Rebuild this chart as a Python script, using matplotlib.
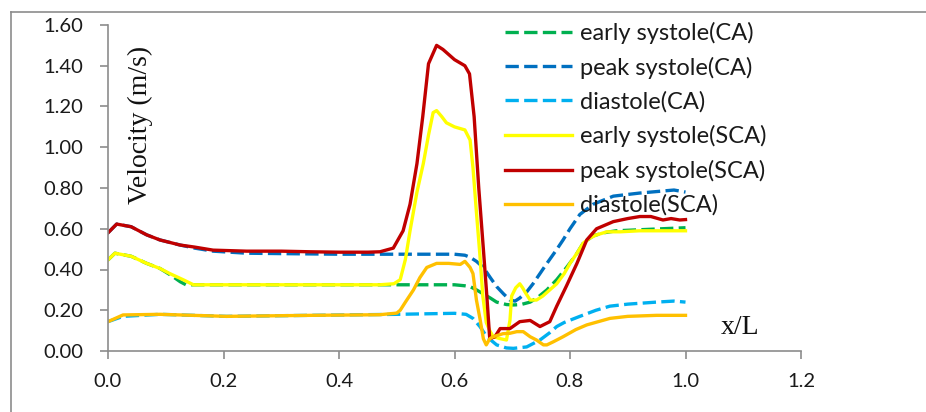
import numpy as np
import matplotlib
matplotlib.use("Agg")
import matplotlib.pyplot as plt
from matplotlib.lines import Line2D

# early systole (CA)
es_ca_x = [0, .012, .04, .067, .09, .11, .125, .135, .15, .3, .45, .55, .6, .618, .627, .638, .65, .662,
           .673, .69, .702, .715, .731, .745, .76, .777, .794, .81, .823, .84, .858, .88, .92, .96, 1.0]
es_ca_v = [.447, .48, .465, .43, .405, .37, .34, .325, .325, .325, .325, .325, .325, .32, .316, .30, .28, .26,
           .24, .228, .226, .228, .24, .265, .30, .35, .41, .47, .53, .565, .58, .59, .595, .6, .605]

# peak systole (CA)
ps_ca_x = [0, .015, .04, .067, .09, .125, .15, .182, .24, .3, .4, .5, .55, .6, .618, .627, .638, .65, .662,
           .673, .685, .696, .705, .713, .725, .736, .748, .76, .775, .788, .80, .817, .84, .875, .92, .96, .98, 1.0]
ps_ca_v = [.58, .623, .61, .57, .545, .52, .505, .49, .48, .478, .475, .475, .475, .475, .47, .46, .44, .41, .36,
           .316, .28, .25, .245, .26, .29, .33, .38, .43, .49, .545, .6, .67, .72, .76, .775, .785, .79, .78]

# diastole (CA)
d_ca_x = [0, .026, .09, .205, .35, .5, .6, .62, .632, .644, .656, .673, .69, .702, .725, .748, .765, .777,
          .79, .817, .845, .869, .9, .95, .98, 1.0]
d_ca_v = [.144, .17, .18, .17, .175, .18, .185, .18, .16, .12, .07, .03, .015, .013, .02, .054, .09, .12,
          .14, .17, .2, .22, .23, .24, .245, .24]

# early systole (SCA)
es_sca_x = [0, .012, .04, .067, .09, .107, .13, .148, .2, .3, .4, .47, .495, .506, .515, .523, .535, .546,
            .555, .563, .569, .578, .586, .60, .618, .627, .632, .638, .644, .649, .655, .661, .667, .68, .69,
            .696, .699, .706, .713, .718, .722, .731, .742, .753, .765, .777, .79, .8, .812, .823, .835, .846,
            .864, .887, .92, .95, 1.0]
es_sca_v = [.447, .48, .465, .43, .405, .38, .35, .325, .325, .325, .325, .325, .33, .35, .45, .59, .78, .92,
            1.06, 1.17, 1.18, 1.15, 1.12, 1.10, 1.085, 1.035, .9, .68, .47, .27, .14, .10, .07, .06, .054,
            .15, .27, .31, .33, .31, .29, .25, .25, .27, .3, .33, .38, .43, .48, .53, .555, .57,
            .585, .585, .59, .59, .59]

# peak systole (SCA)
ps_sca_x = [0, .015, .04, .067, .09, .125, .15, .182, .24, .3, .35, .4, .45, .471, .494, .511, .523, .535,
            .545, .555, .569, .58, .60, .618, .626, .634, .642, .65, .656, .661, .67, .679, .696, .713, .731,
            .748, .765, .777, .794, .812, .829, .846, .875, .9, .921, .94, .961, .975, .99, 1.0]
ps_sca_v = [.58, .623, .61, .57, .545, .52, .51, .495, .49, .49, .487, .485, .485, .487, .505, .59, .72, .92,
            1.15, 1.41, 1.50, 1.48, 1.43, 1.40, 1.36, 1.15, .80, .5, .27, .06, .07, .11, .11, .144, .15,
            .12, .144, .22, .32, .43, .545, .6, .635, .65, .66, .66, .643, .65, .643, .645]

# diastole (SCA)
d_sca_x = [0, .026, .09, .205, .35, .47, .5, .506, .515, .529, .54, .552, .569, .59, .61, .618, .627, .632,
           .638, .644, .65, .655, .661, .667, .684, .696, .708, .719, .731, .742, .754, .76, .771, .788,
           .81, .829, .869, .9, .95, 1.0]
d_sca_v = [.144, .177, .18, .17, .175, .178, .186, .2, .24, .30, .36, .41, .43, .43, .425, .44, .41, .38,
           .25, .16, .06, .03, .06, .07, .085, .087, .095, .095, .07, .054, .03, .03, .045, .07,
           .105, .128, .16, .17, .175, .175]

fig = plt.figure(figsize=(9.26, 4.12), dpi=100)
ax = fig.add_axes([108 / 926, 1 - 351 / 412, 693 / 926, 326 / 412])

lw = 2.4
dash = (4, 1.6)
ax.plot(es_ca_x, es_ca_v, color="#00B050", lw=lw, dashes=dash, label="early systole(CA)")
ax.plot(ps_ca_x, ps_ca_v, color="#0070C0", lw=lw, dashes=dash, label="peak systole(CA)")
ax.plot(d_ca_x, d_ca_v, color="#00B0F0", lw=lw, dashes=dash, label="diastole(CA)")
ax.plot(es_sca_x, es_sca_v, color="#FFFF00", lw=lw, label="early systole(SCA)")
ax.plot(ps_sca_x, ps_sca_v, color="#C00000", lw=lw, label="peak systole(SCA)")
ax.plot(d_sca_x, d_sca_v, color="#FFC000", lw=lw, label="diastole(SCA)")

ax.set_xlim(0, 1.2)
ax.set_ylim(0, 1.6)
ax.set_xticks(np.arange(0, 1.21, 0.2))
ax.set_yticks(np.arange(0, 1.61, 0.2))
ax.set_xticklabels([f"{t:.1f}" for t in np.arange(0, 1.21, 0.2)])
ax.set_yticklabels([f"{t:.2f}" for t in np.arange(0, 1.61, 0.2)])

for s in ["top", "right"]:
    ax.spines[s].set_visible(False)
for s in ["left", "bottom"]:
    ax.spines[s].set_color("#8c8c8c")
    ax.spines[s].set_linewidth(1.2)
ax.tick_params(axis="both", direction="out", length=5.8, width=1.2, color="#8c8c8c",
               labelsize=14.5, labelcolor="#1a1a1a")
ax.tick_params(axis="y", pad=12)
ax.tick_params(axis="x", pad=10)
for lab in ax.get_xticklabels() + ax.get_yticklabels():
    lab.set_fontfamily("Lato")

ax.text(140 / 926, 1 - 125 / 412, "Velocity (m/s)", transform=fig.transFigure, rotation=90,
        ha="center", va="center", fontsize=20, family="Liberation Serif", color="#111111")
ax.text(740 / 926, 1 - 327 / 412, "x/L", transform=fig.transFigure,
        ha="center", va="center", fontsize=20, family="Liberation Serif", color="#111111")

leg = ax.legend(loc="upper left", bbox_to_anchor=(505 / 926, 1 - 22 / 412), bbox_transform=fig.transFigure,
                frameon=False, borderpad=0, borderaxespad=0, handlelength=2.85, handletextpad=0.34,
                labelspacing=0.53, prop={"family": "Lato", "size": 17})
for t in leg.get_texts():
    t.set_color("#1a1a1a")

# outer chart border
fig.add_artist(Line2D([11 / 926, 1], [1 - 12 / 412, 1 - 12 / 412], transform=fig.transFigure,
                      color="#8c8c8c", lw=1.2))
fig.add_artist(Line2D([11 / 926, 11 / 926], [0, 1 - 12 / 412], transform=fig.transFigure,
                      color="#8c8c8c", lw=1.2))

fig.savefig("out.png", dpi=100)
